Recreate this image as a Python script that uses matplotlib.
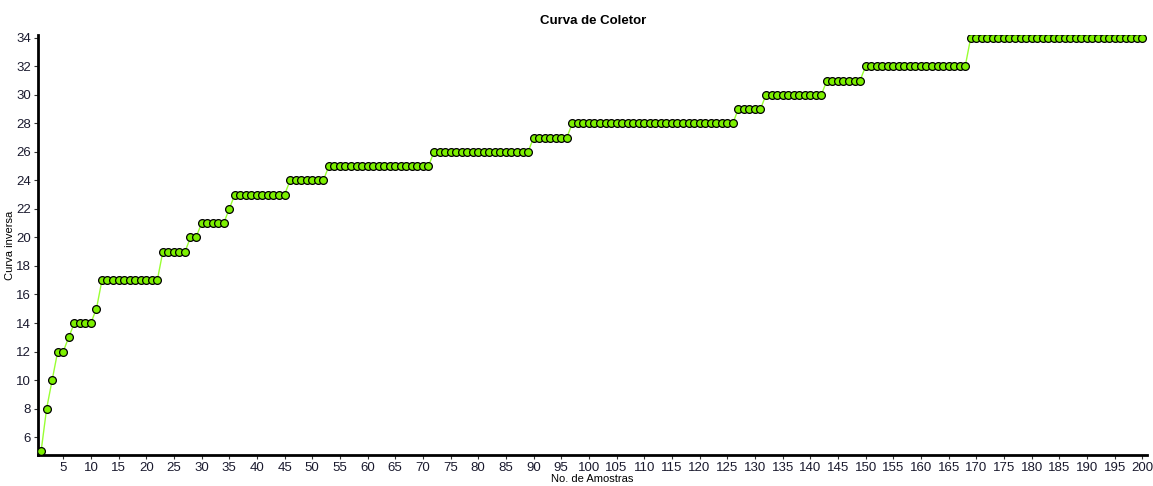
import matplotlib
matplotlib.use('agg')
import matplotlib.pyplot as plt
import numpy as np

# cumulative species count per sample
amostras = np.arange(1, 201)
# (last sample index, value) for each plateau of the curve
degraus_fim = [1, 2, 3, 5, 6, 10, 11, 22, 27, 29, 34, 35, 45, 52, 71, 89, 96, 126, 131, 142, 149, 168, 200]
degraus_val = [5, 8, 10, 12, 13, 14, 15, 17, 19, 20, 21, 22, 23, 24, 25, 26, 27, 28, 29, 30, 31, 32, 34]

curva = []
ini = 1
for fim, v in zip(degraus_fim, degraus_val):
    curva += [v] * (fim - ini + 1)
    ini = fim + 1
curva = np.array(curva)

plt.rcParams['font.family'] = ['Liberation Sans', 'DejaVu Sans']

fig = plt.figure(figsize=(11.53, 4.86), dpi=100)
ax = fig.add_axes([0.033, 0.064, 0.962, 0.864])

ax.plot(amostras, curva, '-', color='#99ff33', linewidth=1.0, zorder=2)
ax.plot(amostras, curva, 'o', markersize=5.6, markerfacecolor='#7cf000',
        markeredgecolor='black', markeredgewidth=0.9, zorder=3)

ax.set_xlim(0.45, 200.9)
ax.set_ylim(4.75, 34.2)
ax.set_xticks(np.arange(5, 201, 5))
ax.set_yticks(np.arange(6, 35, 2))

for s in ['top', 'right']:
    ax.spines[s].set_visible(False)
for s in ['left', 'bottom']:
    ax.spines[s].set_linewidth(2.0)
ax.tick_params(axis='both', length=3, width=0.8, labelsize=9.5, pad=2, colors='#333333', labelcolor='#1a1a2e')

ax.set_title('Curva de Coletor', fontsize=9.5, fontweight='bold', pad=8)
ax.set_xlabel('No. de Amostras', fontsize=8, labelpad=0)
ax.set_ylabel('Curva inversa', fontsize=8, labelpad=1)

fig.savefig('out.png', dpi=100)
